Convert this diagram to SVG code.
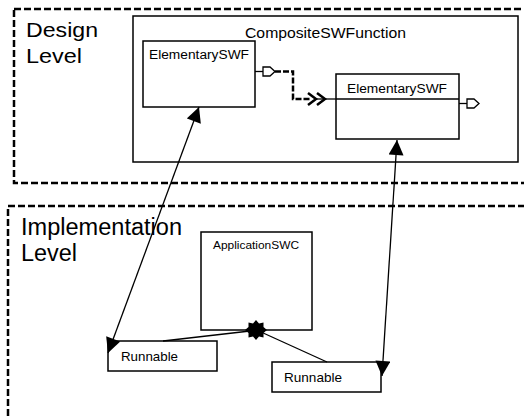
<svg xmlns="http://www.w3.org/2000/svg" width="524" height="419" viewBox="0 0 524 419">
  <style>
    .level { fill: none; stroke: #000; stroke-width: 2.5; stroke-dasharray: 7 3; }
    .box { fill: #fff; stroke: #000; stroke-width: 1.5; }
    .wire { fill: none; stroke: #000; stroke-width: 1.3; }
    .port { fill: #fff; stroke: #000; stroke-width: 1.3; }
    .flow { fill: none; stroke: #000; stroke-width: 2.5; stroke-dasharray: 6 2; }
    .chev { fill: none; stroke: #000; stroke-width: 2.5; }
    text { font-family: "Liberation Sans", Arial, sans-serif; fill: #000; }
    .big { font-size: 21px; }
    .big2 { font-size: 23px; }
    .title { font-size: 14.5px; }
    .name { font-size: 12.5px; }
    .small { font-size: 11px; }
    .run { font-size: 13px; }
  </style>
  <defs>
    <marker id="tri" viewBox="0 0 16 16" refX="16" refY="8" markerWidth="16" markerHeight="15" markerUnits="userSpaceOnUse" orient="auto-start-reverse">
      <path d="M0,0 L16,8 L0,16 z" fill="#000"/>
    </marker>
  </defs>

  <!-- abstraction levels -->
  <g id="design-level">
    <rect class="level" x="14" y="9" width="530" height="174"/>
    <text class="big" x="26" y="37" textLength="72" lengthAdjust="spacingAndGlyphs">Design</text>
    <text class="big" x="26" y="63" textLength="56" lengthAdjust="spacingAndGlyphs">Level</text>
  </g>
  <g id="implementation-level">
    <rect class="level" x="8" y="206" width="530" height="230"/>
    <text class="big2" x="21" y="235" textLength="161" lengthAdjust="spacingAndGlyphs">Implementation</text>
    <text class="big2" x="21" y="261" textLength="56" lengthAdjust="spacingAndGlyphs">Level</text>
  </g>

  <!-- design level nodes -->
  <g id="composite-swf">
    <rect class="box" x="133" y="16" width="385" height="146"/>
    <text class="title" x="245" y="38" textLength="161" lengthAdjust="spacingAndGlyphs">CompositeSWFunction</text>
  </g>
  <g id="elementary-swf-1">
    <rect class="box" x="143" y="41" width="112" height="66"/>
    <text class="name" x="149" y="59" textLength="100" lengthAdjust="spacingAndGlyphs">ElementarySWF</text>
    <line class="wire" x1="255" y1="71.5" x2="263" y2="71.5"/>
    <path class="port" d="M263,67 L270,67 L275,71.5 L270,76 L263,76 z"/>
  </g>
  <g id="elementary-swf-2">
    <rect class="box" x="336" y="74" width="123" height="65"/>
    <line class="wire" x1="336" y1="99" x2="459" y2="99"/>
    <text class="name" x="347" y="93" textLength="100" lengthAdjust="spacingAndGlyphs">ElementarySWF</text>
    <line class="wire" x1="459" y1="103.5" x2="467" y2="103.5"/>
    <path class="port" d="M467,99 L474,99 L479,103.5 L474,108 L467,108 z"/>
  </g>

  <!-- implementation level nodes -->
  <g id="application-swc">
    <rect class="box" x="201" y="232" width="111" height="98"/>
    <text class="small" x="213" y="249" textLength="86" lengthAdjust="spacingAndGlyphs">ApplicationSWC</text>
  </g>
  <g id="runnable-1">
    <rect class="box" x="108" y="341" width="109" height="30"/>
    <text class="run" x="121" y="361" textLength="57" lengthAdjust="spacingAndGlyphs">Runnable</text>
  </g>
  <g id="runnable-2">
    <rect class="box" x="272" y="362" width="109" height="30"/>
    <text class="run" x="284" y="382" textLength="58" lengthAdjust="spacingAndGlyphs">Runnable</text>
  </g>

  <!-- connectors -->
  <g id="connectors">
    <!-- data flow between the elementary functions -->
    <path class="flow" d="M275,71.5 L293,71.5 L293,99 L310,99"/>
    <path class="chev" d="M308,93 L316,99 L308,105 M317,93 L325,99 L317,105"/>
    <line class="wire" x1="316" y1="99" x2="336" y2="99"/>

    <!-- mapping between functions and runnables -->
    <line class="wire" x1="108" y1="353" x2="199" y2="107" marker-start="url(#tri)" marker-end="url(#tri)"/>
    <line class="wire" x1="382" y1="376" x2="397" y2="140" marker-start="url(#tri)" marker-end="url(#tri)"/>

    <!-- composition of the component -->
    <line class="wire" x1="250" y1="331" x2="163" y2="341"/>
    <line class="wire" x1="261" y1="332" x2="327" y2="362"/>
    <polygon fill="#000" points="256,320 259,323.5 263.5,322.5 263.5,327 267,330 263.5,333 263.5,337.5 259,336.5 256,340 253,336.5 248.5,337.5 248.5,333 245,330 248.5,327 248.5,322.5 253,323.5"/>
    <circle cx="256" cy="330" r="6.5" fill="#000"/>
  </g>
</svg>
